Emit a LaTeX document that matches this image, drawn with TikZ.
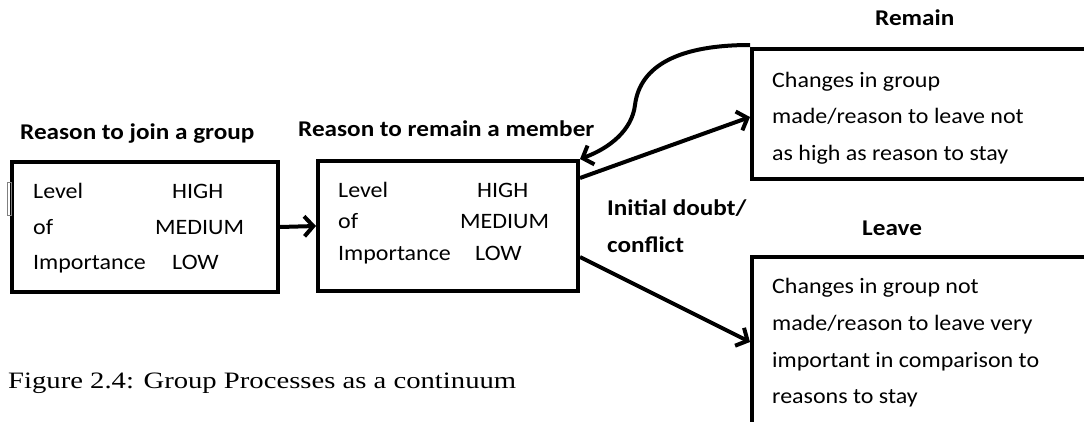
\documentclass[tikz,border=0pt]{standalone}
\usepackage{fontspec}
\setmainfont{Carlito}[FakeStretch=1.09]
\newfontfamily\ttlfont{Carlito}[FakeStretch=1.12]
\newfontfamily\capfont{Liberation Serif}[FakeStretch=1.22]
\usetikzlibrary{arrows.meta,calc}
\begin{document}
\begin{tikzpicture}[x=1pt,y=-1pt,
  box/.style={draw, line width=4pt, inner sep=0pt},
  lbl/.style={anchor=base west, inner sep=0pt, font=\fontsize{22}{26}\selectfont},
  ttl/.style={anchor=base west, inner sep=0pt, font=\ttlfont\fontsize{22.5}{26}\selectfont\bfseries},
  arr/.style={line width=4pt, -{Straight Barb[length=9pt,width=20pt]}}]
\useasboundingbox (0,0) rectangle (1084,421);
\clip (0,0) rectangle (1084,421);
% boxes
\node[box, minimum width=266pt, minimum height=130pt] (box1) at (145,227) {};
\node[box, minimum width=260pt, minimum height=130pt] (box2) at (448,226) {};
\node[box, minimum width=368pt, minimum height=130pt] (remain) at (936,114) {};
\node[box, minimum width=368pt, minimum height=170pt] (leave) at (936,342) {};
\draw[gray, line width=0.8pt] (7,182) rectangle (11,215);
% titles
\node[ttl] (t1) at (20,139) {Reason to join a group};
\node[ttl] (t2) at (298,136) {Reason to remain a member};
\node[ttl] (t3) at (875,25) {Remain};
\node[ttl] (t4) at (862,235) {Leave};
\node[ttl] (t5) at (607,215) {Initial doubt/};
\node[ttl] (t6) at (607,252) {conflict};
% box1 text
\node[lbl] (a1) at (33,198) {Level};
\node[lbl] (a2) at (33,234) {of};
\node[lbl] (a3) at (33,269) {Importance};
\node[lbl] (a4) at (172,198) {HIGH};
\node[lbl] (a5) at (155,234) {MEDIUM};
\node[lbl] (a6) at (172,269) {LOW};
% box2 text
\node[lbl] (b1) at (338,197) {Level};
\node[lbl] (b2) at (338,228) {of};
\node[lbl] (b3) at (338,260) {Importance};
\node[lbl] (b4) at (477,197) {HIGH};
\node[lbl] (b5) at (460,228) {MEDIUM};
\node[lbl] (b6) at (475,260) {LOW};
% remain text
\node[lbl] (r1) at (772,87) {Changes in group};
\node[lbl] (r2) at (772,123) {made/reason to leave not};
\node[lbl] (r3) at (772,160) {as high as reason to stay};
% leave text
\node[lbl] (l1) at (772,293) {Changes in group not};
\node[lbl] (l2) at (772,330) {made/reason to leave very};
\node[lbl] (l3) at (772,367) {important in comparison to};
\node[lbl] (l4) at (772,403) {reasons to stay};
% caption
\node[anchor=base west, inner sep=0pt, font=\capfont\fontsize{23.5}{27}\selectfont] (cap) at (8,388) {Figure 2.4: Group Processes as a continuum};
% arrows
\draw[arr] (box1.east) -- (box2.west);
\draw[arr] ([yshift=-19pt]box2.north east) -- ([yshift=-3pt]remain.west);
\draw[arr] ([yshift=-31pt]box2.east) -- (leave.west);
\draw[arr] ([yshift=2pt]remain.north west) .. controls (680,45) and (640,65) .. (635,105) .. controls (632,130) and (610,148) .. (box2.north east);
\end{tikzpicture}
\end{document}
